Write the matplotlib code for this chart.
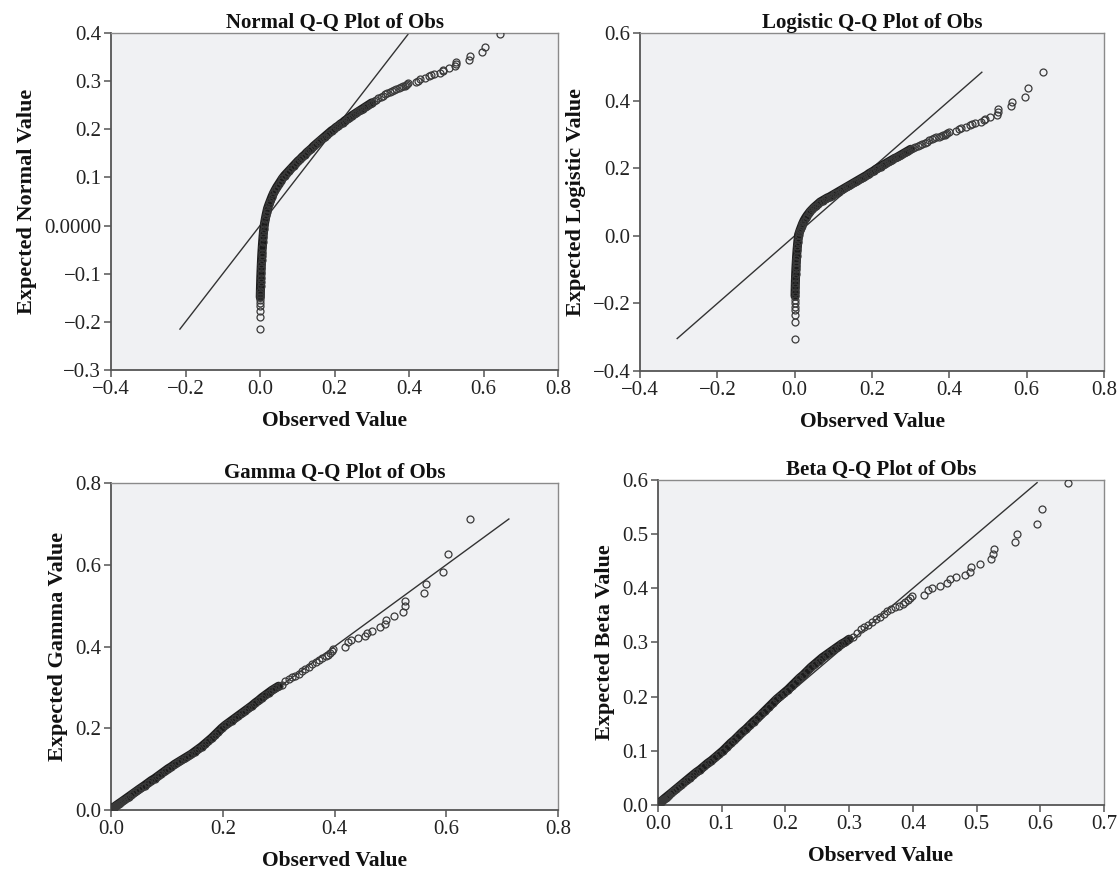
import matplotlib
matplotlib.use("Agg")
import matplotlib.pyplot as plt
from matplotlib.ticker import FixedLocator, FuncFormatter

plt.rcParams['font.family'] = ['Liberation Serif', 'DejaVu Serif']

# ---- data: sorted observed values (shared by all panels) ----
observed = [
    0.0000, 0.0001, 0.0002, 0.0003, 0.0004, 0.0005, 0.0006, 0.0008, 0.0010, 0.0013,
    0.0016, 0.0020, 0.0025, 0.0030, 0.0035, 0.0040, 0.0045, 0.0050, 0.0060, 0.0070,
    0.0080, 0.0090, 0.0100, 0.0120, 0.0140, 0.0160, 0.0180,
    0.020, 0.024, 0.028, 0.032, 0.036, 0.040, 0.045, 0.050, 0.055, 0.060,
    0.066, 0.072, 0.078, 0.084, 0.090, 0.096, 0.102, 0.108, 0.114, 0.120,
    0.126, 0.132, 0.138, 0.144, 0.150, 0.156, 0.162, 0.168, 0.174, 0.180,
    0.186, 0.192, 0.198, 0.204, 0.210, 0.216, 0.222, 0.228, 0.234, 0.240,
    0.246, 0.252, 0.258, 0.264, 0.270, 0.276, 0.282, 0.288, 0.294, 0.300,
    0.306, 0.312, 0.318, 0.324, 0.330, 0.336, 0.342, 0.348, 0.354, 0.360,
    0.366, 0.372, 0.378, 0.384,
    0.388, 0.392, 0.395, 0.398,
    0.418, 0.424, 0.430, 0.442, 0.454, 0.458, 0.467, 0.482, 0.490, 0.492,
    0.506, 0.523, 0.526, 0.527, 0.560, 0.563, 0.595, 0.603, 0.643,
]

expected_normal = [
    -0.215, -0.190, -0.178, -0.168, -0.161, -0.155, -0.149, -0.142, -0.135, -0.126,
    -0.118, -0.108, -0.098, -0.089, -0.080, -0.072, -0.064, -0.057, -0.045, -0.034,
    -0.024, -0.015, -0.007, 0.004, 0.013, 0.021, 0.028,
    0.035, 0.044, 0.052, 0.060, 0.067, 0.073, 0.080, 0.086, 0.092, 0.098,
    0.104, 0.109, 0.114, 0.119, 0.124, 0.129, 0.134, 0.138, 0.143, 0.147,
    0.152, 0.156, 0.160, 0.165, 0.169, 0.173, 0.177, 0.181, 0.185, 0.189,
    0.193, 0.197, 0.200, 0.204, 0.207, 0.211, 0.214, 0.218, 0.221, 0.224,
    0.228, 0.231, 0.234, 0.237, 0.240, 0.243, 0.246, 0.249, 0.252, 0.255,
    0.258, 0.261, 0.264, 0.267, 0.270, 0.273, 0.275, 0.277, 0.279, 0.281,
    0.283, 0.285, 0.287, 0.289,
    0.291, 0.293, 0.295, 0.297,
    0.299, 0.301, 0.304, 0.307, 0.310, 0.312, 0.315, 0.318, 0.321, 0.324,
    0.327, 0.331, 0.335, 0.340, 0.345, 0.352, 0.360, 0.372, 0.397,
]

expected_logistic = [
    -0.304, -0.256, -0.233, -0.220, -0.210, -0.200, -0.190, -0.178, -0.166, -0.152,
    -0.140, -0.126, -0.112, -0.099, -0.088, -0.078, -0.068, -0.059, -0.043, -0.030,
    -0.018, -0.007, 0.003, 0.010, 0.017, 0.023, 0.029,
    0.035, 0.045, 0.053, 0.060, 0.066, 0.072, 0.078, 0.084, 0.089, 0.094,
    0.100, 0.104, 0.108, 0.112, 0.115, 0.119, 0.123, 0.127, 0.131, 0.135,
    0.139, 0.143, 0.147, 0.151, 0.155, 0.159, 0.163, 0.167, 0.171, 0.175,
    0.179, 0.184, 0.188, 0.192, 0.197, 0.201, 0.205, 0.209, 0.213, 0.217,
    0.221, 0.225, 0.229, 0.232, 0.236, 0.240, 0.244, 0.248, 0.252, 0.256,
    0.259, 0.263, 0.266, 0.270, 0.273, 0.276, 0.279, 0.282, 0.285, 0.288,
    0.291, 0.293, 0.295, 0.297,
    0.299, 0.301, 0.304, 0.307,
    0.310, 0.315, 0.320, 0.323, 0.327, 0.330, 0.333, 0.338, 0.342, 0.347,
    0.352, 0.358, 0.366, 0.375, 0.383, 0.397, 0.411, 0.436, 0.484,
]

expected_gamma = [
    0.0002, 0.0004, 0.0006, 0.0008, 0.0010, 0.0012, 0.0014, 0.0017, 0.0020, 0.0024,
    0.0028, 0.0033, 0.0039, 0.0045, 0.0051, 0.0057, 0.0062, 0.0068, 0.0078, 0.0088,
    0.0098, 0.0108, 0.0118, 0.0137, 0.0156, 0.0175, 0.0194,
    0.0213, 0.0252, 0.0291, 0.0330, 0.0369, 0.0408, 0.0457, 0.0506, 0.0553, 0.0600,
    0.066, 0.072, 0.077, 0.083, 0.089, 0.095, 0.101, 0.106, 0.112, 0.117,
    0.122, 0.127, 0.132, 0.137, 0.143, 0.149, 0.155, 0.162, 0.169, 0.176,
    0.184, 0.192, 0.200, 0.207, 0.213, 0.219, 0.225, 0.231, 0.237, 0.243,
    0.249, 0.255, 0.262, 0.268, 0.275, 0.281, 0.287, 0.293, 0.298, 0.303,
    0.307, 0.316, 0.321, 0.325, 0.329, 0.334, 0.339, 0.344, 0.350, 0.358,
    0.362, 0.367, 0.372, 0.377,
    0.380, 0.385, 0.389, 0.395,
    0.399, 0.410, 0.415, 0.420, 0.426, 0.433, 0.439, 0.447, 0.455, 0.464,
    0.474, 0.485, 0.499, 0.512, 0.530, 0.552, 0.582, 0.626, 0.712,
]

expected_beta = [
    0.0001, 0.0003, 0.0005, 0.0007, 0.0009, 0.0011, 0.0013, 0.0016, 0.0019, 0.0023,
    0.0027, 0.0032, 0.0038, 0.0044, 0.0050, 0.0056, 0.0061, 0.0067, 0.0077, 0.0087,
    0.0097, 0.0107, 0.0117, 0.0136, 0.0155, 0.0174, 0.0193,
    0.0212, 0.0251, 0.0290, 0.0329, 0.0368, 0.0407, 0.0456, 0.0505, 0.0553, 0.0601,
    0.065, 0.071, 0.077, 0.082, 0.088, 0.094, 0.100, 0.107, 0.114, 0.120,
    0.127, 0.134, 0.140, 0.147, 0.154, 0.160, 0.167, 0.174, 0.181, 0.188,
    0.195, 0.201, 0.207, 0.213, 0.220, 0.227, 0.234, 0.240, 0.247, 0.254,
    0.260, 0.266, 0.272, 0.277, 0.282, 0.287, 0.292, 0.297, 0.301, 0.306,
    0.310, 0.318, 0.324, 0.329, 0.333, 0.338, 0.343, 0.347, 0.353, 0.358,
    0.362, 0.366, 0.368, 0.371,
    0.375, 0.378, 0.382, 0.386,
    0.388, 0.396, 0.401, 0.405, 0.409, 0.417, 0.420, 0.425, 0.431, 0.439,
    0.445, 0.454, 0.463, 0.473, 0.485, 0.500, 0.519, 0.546, 0.595,
]

titles = ["Normal Q-Q Plot of Obs", "Logistic Q-Q Plot of Obs",
          "Gamma Q-Q Plot of Obs", "Beta Q-Q Plot of Obs"]
ylabels = ["Expected Normal Value", "Expected Logistic Value",
           "Expected Gamma Value", "Expected Beta Value"]
xlabel = "Observed Value"

xticks = [[-0.4, -0.2, 0.0, 0.2, 0.4, 0.6, 0.8],
          [-0.4, -0.2, 0.0, 0.2, 0.4, 0.6, 0.8],
          [0.0, 0.2, 0.4, 0.6, 0.8],
          [0.0, 0.1, 0.2, 0.3, 0.4, 0.5, 0.6, 0.7]]
yticks = [[-0.3, -0.2, -0.1, 0.0, 0.1, 0.2, 0.3, 0.4],
          [-0.4, -0.2, 0.0, 0.2, 0.4, 0.6],
          [0.0, 0.2, 0.4, 0.6, 0.8],
          [0.0, 0.1, 0.2, 0.3, 0.4, 0.5, 0.6]]
ytick_labels_normal = ["\u22120.3", "\u22120.2", "\u22120.1", "0.0000", "0.1", "0.2", "0.3", "0.4"]

expected_all = [expected_normal, expected_logistic, expected_gamma, expected_beta]

# ---- layout / style ----
positions = [[0.0992, 0.5776, 0.3995, 0.3847],
             [0.5720, 0.5765, 0.4146, 0.3858],
             [0.0992, 0.0753, 0.3995, 0.3733],
             [0.5880, 0.0811, 0.3986, 0.3710]]
dense_start = [6, 7, 0, 0]
DENSE_MAX_OBS = 0.30
face = "#f0f1f3"


def fmt(v, pos):
    s = f"{v:.1f}"
    if s == "-0.0":
        s = "0.0"
    return s.replace("-", "\u2212")


fig = plt.figure(figsize=(11.19, 8.76), dpi=100)
for i in range(4):
    ax = fig.add_axes(positions[i])
    ax.set_facecolor(face)
    obs = observed
    exp = expected_all[i]
    # reference line y = x over the range of expected values
    lo, hi = min(exp), max(exp)
    ax.plot([lo, hi], [lo, hi], color="#333333", lw=1.0, zorder=2)
    # dense band drawn through the crowded points
    idx = [k for k in range(len(obs)) if k >= dense_start[i] and obs[k] <= DENSE_MAX_OBS]
    ax.plot([obs[k] for k in idx], [exp[k] for k in idx], color="#1c1c1c",
            lw=6.5, solid_capstyle="round", solid_joinstyle="round", zorder=3)
    ax.plot(obs, exp, linestyle="none", marker="o", markersize=5.0,
            markerfacecolor="none", markeredgecolor="#3a3a3a", markeredgewidth=0.9, zorder=4)

    ax.set_xlim(xticks[i][0], xticks[i][-1])
    ax.set_ylim(yticks[i][0], yticks[i][-1])
    ax.xaxis.set_major_locator(FixedLocator(xticks[i]))
    ax.yaxis.set_major_locator(FixedLocator(yticks[i]))
    ax.xaxis.set_major_formatter(FuncFormatter(fmt))
    if i == 0:
        ax.set_yticklabels(ytick_labels_normal)
    else:
        ax.yaxis.set_major_formatter(FuncFormatter(fmt))

    for side in ["top", "right"]:
        ax.spines[side].set_color("#8a8a8a")
        ax.spines[side].set_linewidth(1.0)
    for side in ["left", "bottom"]:
        ax.spines[side].set_color("#555555")
        ax.spines[side].set_linewidth(1.3)
    ax.tick_params(direction="out", length=5, width=1.1, color="#555555",
                   labelsize=15, labelcolor="#222222", pad=2)
    ax.set_title(titles[i], fontsize=15, fontweight="bold", pad=3, color="#111111")
    ax.set_xlabel(xlabel, fontsize=15.5, fontweight="bold", labelpad=9, color="#111111")
    ax.set_ylabel(ylabels[i], fontsize=16, fontweight="bold", labelpad=5, color="#111111")

fig.savefig("out.png", dpi=100)
